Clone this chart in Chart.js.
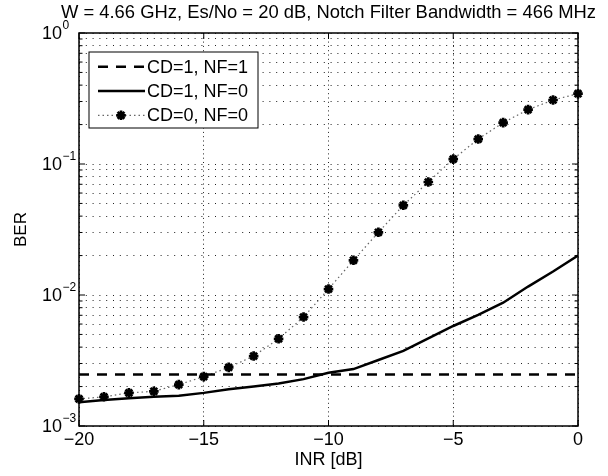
<!DOCTYPE html>
<html>
<head>
<meta charset="utf-8">
<script src="https://cdn.jsdelivr.net/npm/chart.js@4.4.1/dist/chart.umd.min.js"></script>
<style>
  html, body { margin: 0; padding: 0; background: #fff; }
</style>
</head>
<body>
<canvas id="berChart" width="608" height="476"></canvas>
<script>
// values
const inrDb = [-20, -19, -18, -17, -16, -15, -14, -13, -12, -11, -10, -9, -8, -7, -6, -5, -4, -3, -2, -1, 0];
const berCd1Nf1 = [0.00247, 0.00247, 0.00247, 0.00247, 0.00247, 0.00247, 0.00247, 0.00247, 0.00247, 0.00247, 0.00247,
                   0.00247, 0.00247, 0.00247, 0.00247, 0.00247, 0.00247, 0.00247, 0.00247, 0.00247, 0.00247];
const berCd1Nf0 = [0.00152, 0.00158, 0.00163, 0.00167, 0.00170, 0.00179, 0.00191, 0.00200, 0.00211, 0.00228, 0.00255,
                   0.00272, 0.00319, 0.00374, 0.00467, 0.00580, 0.00704, 0.00873, 0.0116, 0.0151, 0.0200];
const berCd0Nf0 = [0.00161, 0.00167, 0.00179, 0.00184, 0.00207, 0.00238, 0.00280, 0.00342, 0.00463, 0.00679, 0.0111,
                   0.0184, 0.0301, 0.0484, 0.0729, 0.109, 0.155, 0.207, 0.260, 0.308, 0.344];
const seriesLabels = ['CD=1, NF=1', 'CD=1, NF=0', 'CD=0, NF=0'];
const xTicks = [-20, -15, -10, -5, 0];
const yDecades = [0.001, 0.01, 0.1, 1];
const yExponents = ['\u22123', '\u22122', '\u22121', '0'];
const chartTitle = 'W = 4.66 GHz, Es/No = 20 dB, Notch Filter Bandwidth = 466 MHz';

const FONT = "'Liberation Sans', Arial, sans-serif";
Chart.defaults.font.family = FONT;
Chart.defaults.color = '#000';

function points(ys) {
  return inrDb.map((x, i) => ({ x: x, y: ys[i] }));
}

// log ticks at 1..9 x 10^n like matlab
function logTicks() {
  const out = [];
  yDecades.forEach((d, i) => {
    out.push({ value: d, major: true });
    if (i < yDecades.length - 1) {
      for (let m = 2; m <= 9; m++) out.push({ value: d * m, major: false });
    }
  });
  return out;
}

// title, box, inward ticks, 10^n labels and the legend
const matlabAxes = {
  id: 'matlabAxes',
  afterDraw(chart) {
    const { ctx, chartArea: a, scales: { x, y } } = chart;
    ctx.save();

    ctx.fillStyle = '#000';
    ctx.font = '18.4px ' + FONT;
    ctx.textAlign = 'center';
    ctx.textBaseline = 'middle';
    ctx.fillText(chartTitle, (a.left + a.right) / 2, 13);

    ctx.strokeStyle = '#000';
    ctx.lineWidth = 1.5;
    ctx.strokeRect(a.left, a.top, a.right - a.left, a.bottom - a.top);

    ctx.lineWidth = 1;
    ctx.beginPath();
    y.ticks.forEach(t => {
      const py = y.getPixelForValue(t.value);
      const len = t.major ? 6 : 3.5;
      ctx.moveTo(a.left, py); ctx.lineTo(a.left + len, py);
      ctx.moveTo(a.right, py); ctx.lineTo(a.right - len, py);
    });
    xTicks.forEach(v => {
      const px = x.getPixelForValue(v);
      ctx.moveTo(px, a.bottom); ctx.lineTo(px, a.bottom - 6);
      ctx.moveTo(px, a.top); ctx.lineTo(px, a.top + 6);
    });
    ctx.stroke();

    // y labels
    ctx.textBaseline = 'middle';
    yDecades.forEach((d, i) => {
      const py = y.getPixelForValue(d);
      ctx.font = '18px ' + FONT;
      ctx.textAlign = 'right';
      ctx.fillText('10', a.left - 17, py + 1.5);
      ctx.font = '12px ' + FONT;
      ctx.textAlign = 'left';
      ctx.fillText(yExponents[i], a.left - 16.5, py - 7);
    });

    // legend box
    const lx = 89, ly = 52, lw = 169, lh = 76;
    ctx.fillStyle = '#fff';
    ctx.fillRect(lx, ly, lw, lh);
    ctx.strokeStyle = '#000';
    ctx.lineWidth = 1;
    ctx.strokeRect(lx, ly, lw, lh);
    chart.data.datasets.forEach((ds, i) => {
      const ry = ly + 14.7 + i * 24.3;
      ctx.save();
      ctx.strokeStyle = ds.borderColor;
      ctx.lineWidth = ds.borderWidth;
      ctx.setLineDash(ds.borderDash || []);
      ctx.beginPath();
      ctx.moveTo(lx + 9, ry);
      ctx.lineTo(lx + 56, ry);
      ctx.stroke();
      ctx.setLineDash([]);
      if (ds.pointRadius > 0) {
        ctx.strokeStyle = ds.pointBorderColor;
        ctx.lineWidth = ds.pointBorderWidth;
        Chart.helpers.drawPoint(ctx, { pointStyle: ds.pointStyle, radius: ds.pointRadius, borderWidth: ds.pointBorderWidth, rotation: 0 }, lx + 32, ry);
      }
      ctx.restore();
      ctx.fillStyle = '#000';
      ctx.font = '18px ' + FONT;
      ctx.textAlign = 'left';
      ctx.textBaseline = 'middle';
      ctx.fillText(ds.label, lx + 58, ry + 1);
    });
    ctx.restore();
  }
};

new Chart(document.getElementById('berChart'), {
  type: 'line',
  data: {
    datasets: [
      {
        label: seriesLabels[0],
        data: points(berCd1Nf1),
        borderColor: '#000',
        borderWidth: 2.5,
        borderDash: [10, 8],
        pointRadius: 0
      },
      {
        label: seriesLabels[1],
        data: points(berCd1Nf0),
        borderColor: '#000',
        borderWidth: 2.5,
        pointRadius: 0
      },
      {
        label: seriesLabels[2],
        data: points(berCd0Nf0),
        borderColor: '#666',
        borderWidth: 1.2,
        borderDash: [1.5, 3],
        pointStyle: 'star',
        pointRadius: 4.8,
        pointBorderWidth: 2.7,
        pointBorderColor: '#000',
        pointBackgroundColor: '#000',
        clip: false
      }
    ]
  },
  options: {
    responsive: false,
    animation: false,
    events: [],
    layout: { padding: { left: 0, right: 30, top: 33, bottom: 0 } },
    plugins: {
      legend: { display: false },
      tooltip: { enabled: false },
      title: { display: false }
    },
    scales: {
      x: {
        type: 'linear',
        min: -20,
        max: 0,
        afterBuildTicks: s => { s.ticks = xTicks.map(v => ({ value: v })); },
        afterFit: s => { s.height = 50; },
        ticks: {
          font: { size: 18 },
          padding: 3,
          maxRotation: 0,
          callback: v => v < 0 ? '\u2212' + Math.abs(v) : String(v)
        },
        grid: { color: '#222', lineWidth: 1, drawTicks: false },
        border: { display: false, dash: [1, 3.3] },
        title: { display: true, text: 'INR [dB]', font: { size: 18 }, padding: { top: 0, bottom: 5 } }
      },
      y: {
        type: 'logarithmic',
        min: 0.001,
        max: 1,
        afterBuildTicks: s => { s.ticks = logTicks(); },
        afterFit: s => { s.width = 79; },
        ticks: { display: false },
        grid: { color: '#222', lineWidth: 1, drawTicks: false },
        border: { display: false, dash: [1, 5.8] },
        title: { display: true, text: 'BER', font: { size: 17 }, padding: { top: 11, bottom: 0 } }
      }
    }
  },
  plugins: [matlabAxes]
});
</script>
</body>
</html>
